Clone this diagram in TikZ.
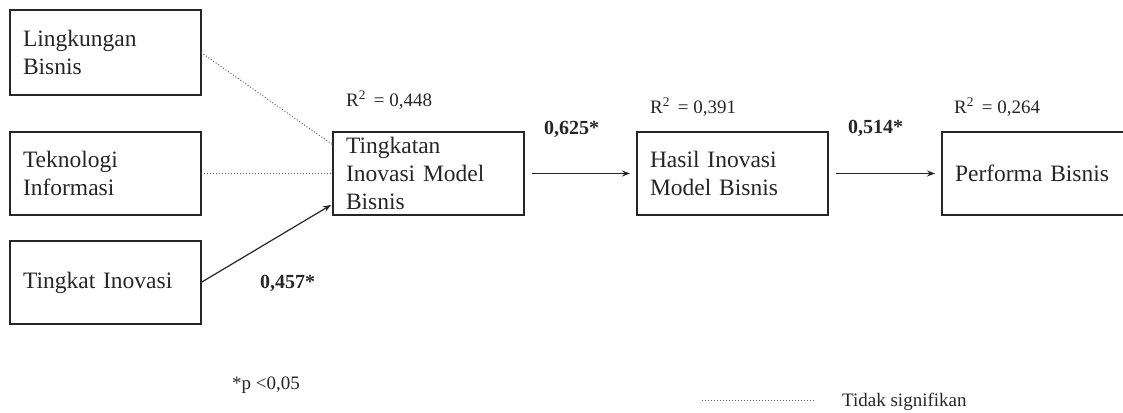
\documentclass[tikz,border=0pt]{standalone}
\usepackage{fontspec}
\setmainfont{Liberation Serif}
\usetikzlibrary{arrows.meta,calc}
\tikzset{
  box/.style={draw=black!85, line width=1.2pt, rectangle, inner sep=0pt, outer sep=0pt,
    minimum width=191pt, text width=165pt, align=left,
    font=\fontsize{23.5}{28}\selectfont, text=black!85},
  nsline/.style={draw=black!65, line width=0.9pt, dash pattern=on 1pt off 2pt},
  arr/.style={draw=black!85, line width=1.2pt, -{Stealth[length=8pt,width=6pt]}},
  rlabel/.style={anchor=base west, inner sep=0pt, font=\fontsize{19}{22}\selectfont, text=black!85},
  coef/.style={anchor=base west, inner sep=0pt, font=\fontsize{20}{24}\selectfont\bfseries, text=black!85},
  legend/.style={anchor=base west, inner sep=0pt, font=\fontsize{19}{22}\selectfont, text=black!85}
}
\begin{document}
\begin{tikzpicture}[x=1pt,y=-1pt]
\useasboundingbox[fill=white] (0,0) rectangle (1123,412);
% boxes
\node[box, minimum height=85pt] (LB) at (105.5,52.5) {Lingkungan\\Bisnis};
\node[box, minimum height=83pt] (TI) at (105.5,173.5) {Teknologi\\Informasi};
\node[box, minimum height=83pt] (TK) at (105.5,282.5) {Tingkat Inovasi};
\node[box, minimum height=83pt] (T) at (428.5,173.5) {Tingkatan\\Inovasi Model\\Bisnis};
\node[box, minimum height=83pt] (H) at (732.5,173.5) {Hasil Inovasi\\Model Bisnis};
\node[box, minimum height=83pt] (P) at (1037.5,173.5) {Performa Bisnis};
% connectors
\draw[nsline] (LB.east) -- ($(T.north west)+(0,13)$);
\draw[nsline] (TI.east) -- (T.west);
\draw[arr] (TK.east) -- ($(T.south west)+(-2,-10)$);
\draw[arr, shorten <=8pt, shorten >=7pt] (T.east) -- (H.west);
\draw[arr, shorten <=8pt, shorten >=7pt] (H.east) -- (P.west);
% R squared
\node[rlabel] (r1) at (346,106) {R\textsuperscript{2} \,= 0,448};
\node[rlabel] (r2) at (650,113) {R\textsuperscript{2} \,= 0,391};
\node[rlabel] (r3) at (954,113) {R\textsuperscript{2} \,= 0,264};
% coefficients
\node[coef] (c1) at (544,134) {0,625*};
\node[coef] (c2) at (848,133) {0,514*};
\node[coef] (c3) at (260,288) {0,457*};
% legend
\node[legend] (p) at (232,389) {*p <0,05};
\coordinate (l1) at (702,400);
\coordinate (l2) at (815,400);
\draw[nsline] (l1) -- (l2);
\node[legend] (ns) at (842,406) {Tidak signifikan};
\end{tikzpicture}
\end{document}
